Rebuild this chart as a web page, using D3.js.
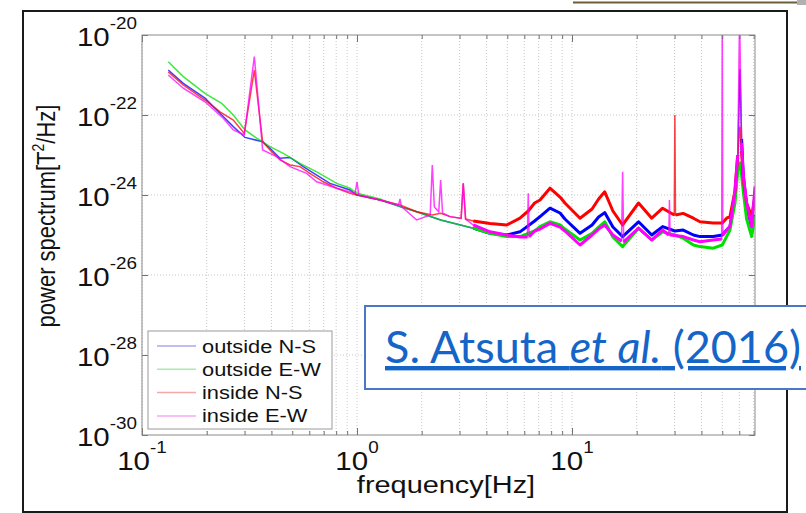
<!DOCTYPE html>
<html>
<head>
<meta charset="utf-8">
<script src="https://cdn.jsdelivr.net/npm/d3@7"></script>
<style>
  body { margin: 0; background: #fff; }
  svg { display: block; }
</style>
</head>
<body>
<svg id="chart" width="806" height="513"></svg>
<script>
////// DATA  [frequency Hz, power T^2/Hz]

var outsideNS = [
  [0.1325, 1.33e-21], [0.1556, 6.17e-22], [0.1963, 2.63e-22], [0.2348, 1.0e-22],
  [0.2659, 5.13e-23], [0.3014, 2.75e-23], [0.3642, 2.14e-23], [0.3938, 1.48e-23],
  [0.4384, 8.32e-24], [0.4881, 8.71e-24], [0.5626, 5.13e-24], [0.6496, 3.16e-24],
  [0.7488, 1.95e-24], [0.9277, 1.33e-24], [1.0, 1.0e-24], [1.28, 7.5e-25],
  [1.585, 5.13e-25], [1.896, 3.8e-25], [2.45, 2.37e-25], [3.475, 1.48e-25],
  [4.156, 1.10e-25], [4.97, 1.0e-25], [5.73, 1.2e-25], [6.7, 2.24e-25], [7.1, 2.88e-25],
  [7.9, 4.68e-25], [8.8, 3.55e-25], [9.27, 2.51e-25], [10.9, 1.10e-25], [12.4, 1.78e-25],
  [13.3, 2.82e-25], [14.2, 3.63e-25], [15.5, 1.58e-25], [17.2, 9.12e-26], [20.4, 2.14e-25],
  [23.5, 1.0e-25], [26.4, 1.62e-25], [30.1, 1.26e-25], [32.9, 1.33e-25], [36.7, 1.0e-25],
  [39.4, 9.12e-26], [45.4, 9.12e-26], [50, 1.0e-25], [52.4, 1.33e-25],
  [54.3, 1.62e-25], [57.3, 1.0e-24], [59.0, 6.31e-24], [60.4, 1.41e-21],
  [61.5, 2.51e-23], [62.6, 3.16e-24], [64.9, 5.01e-25], [68.5, 1.62e-25],
  [71.0, 3.16e-25]
];

var outsideEW = [
  [0.1325, 2.14e-21], [0.1556, 9.12e-22], [0.1963, 3.47e-22], [0.2348, 1.95e-22],
  [0.2659, 1.0e-22], [0.3014, 4.22e-23], [0.3416, 2.63e-23], [0.3938, 1.62e-23],
  [0.454, 1.10e-23], [0.543, 6.17e-24], [0.6496, 3.8e-24], [0.805, 1.95e-24],
  [0.9277, 1.48e-24], [1.0, 1.10e-24], [1.28, 7.94e-25], [1.585, 5.13e-25],
  [1.896, 3.8e-25], [2.45, 2.37e-25], [3.475, 1.48e-25], [4.156, 1.10e-25],
  [4.97, 9.12e-26], [5.73, 9.12e-26], [6.7, 1.26e-25], [7.1, 1.62e-25], [7.9, 2.14e-25],
  [8.8, 1.78e-25], [9.27, 1.41e-25], [10.9, 7.5e-26], [12.4, 1.10e-25], [13.3, 1.58e-25],
  [14.2, 2.14e-25], [15.5, 8.91e-26], [17.2, 5.13e-26], [20.4, 1.48e-25], [23.5, 7.5e-26],
  [26.4, 1.2e-25], [30.1, 1.0e-25], [32.9, 8.32e-26], [36.7, 5.62e-26], [39.4, 5.13e-26],
  [45.4, 4.68e-26], [50, 5.62e-26], [52.4, 9.12e-26], [54.3, 1.33e-25],
  [57.3, 6.31e-25], [59.0, 3.98e-24], [60.4, 6.31e-24], [61.5, 3.16e-24],
  [62.6, 1.26e-24], [64.9, 2.51e-25], [68.5, 9.12e-26], [71.0, 2.88e-25]
];

var insideNS = [
  [0.1325, 1.2e-21], [0.1556, 5.62e-22], [0.1963, 2.37e-22], [0.2306, 1.2e-22],
  [0.2659, 7.5e-23], [0.299, 3.47e-23], [0.333, 1.33e-21], [0.364, 2.14e-23],
  [0.3938, 1.33e-23], [0.4384, 7.5e-24], [0.4881, 5.62e-24], [0.543, 5.13e-24],
  [0.604, 3.47e-24], [0.697, 2.14e-24], [0.805, 1.48e-24], [0.9277, 1.10e-24],
  [1.0, 1.0e-24], [1.28, 7.5e-25], [1.585, 5.62e-25], [1.896, 3.8e-25],
  [2.24, 3.16e-25], [2.45, 3.47e-25], [2.707, 2.88e-25], [3.05, 2.6e-25],
  [3.12, 1.95e-24], [3.2, 2.5e-25], [3.475, 2.24e-25], [4.156, 1.95e-25],
  [4.97, 1.78e-25], [5.73, 2.63e-25], [6.26, 3.98e-25], [6.7, 6.31e-25], [7.1, 7.5e-25],
  [7.9, 1.48e-24], [8.8, 8.91e-25], [9.27, 6.31e-25], [10.9, 2.63e-25], [12.4, 4.47e-25],
  [13.3, 7.94e-25], [14.2, 1.2e-24], [15.5, 3.98e-25], [17.2, 1.78e-25], [20.4, 6.31e-25],
  [23.5, 2.63e-25], [26.4, 4.68e-25], [29.9, 3.16e-25], [30.1, 1.0e-22], [30.3, 3.16e-25],
  [32.9, 3.47e-25], [36.7, 2.63e-25], [39.4, 2.14e-25], [45.4, 2.0e-25],
  [50, 2.0e-25], [52.4, 2.63e-25], [54.3, 2.88e-25], [57.3, 1.26e-24],
  [59.0, 1.0e-23], [60.4, 5.13e-23], [61.5, 1.26e-23], [62.6, 2.51e-24],
  [64.9, 6.31e-25], [68.5, 2.88e-25], [71.0, 9.12e-25]
];

var insideEW = [
  [0.1325, 1.0e-21], [0.1556, 4.68e-22], [0.1963, 2.14e-22], [0.2388, 8.32e-23],
  [0.2659, 4.22e-23], [0.299, 3.16e-23], [0.333, 2.88e-21], [0.364, 1.33e-23],
  [0.423, 9.12e-24], [0.4881, 5.13e-24], [0.583, 3.47e-24], [0.6496, 2.14e-24],
  [0.805, 1.48e-24], [0.98, 1.10e-24], [1.0, 2.14e-24], [1.02, 1.0e-24],
  [1.28, 7.5e-25], [1.56, 5.62e-25], [1.585, 7.94e-25], [1.61, 5.13e-25],
  [1.896, 2.37e-25], [2.19, 3.16e-25], [2.24, 5.62e-24], [2.29, 5.01e-25],
  [2.40, 3.8e-25], [2.45, 2.37e-24], [2.50, 3.55e-25], [2.707, 2.88e-25],
  [3.05, 2.63e-25], [3.12, 1.95e-24], [3.2, 2.51e-25], [3.475, 1.78e-25],
  [4.156, 1.2e-25], [4.97, 1.0e-25], [5.73, 8.91e-26], [6.2, 8.91e-26],
  [6.26, 1.10e-24], [6.32, 9.12e-26], [6.7, 1.26e-25], [7.1, 1.41e-25], [7.9, 1.95e-25],
  [8.8, 1.58e-25], [9.27, 1.26e-25], [10.9, 5.62e-26], [12.4, 1.0e-25], [13.3, 1.41e-25],
  [14.2, 1.78e-25], [15.5, 1.0e-25], [17.0, 7.08e-26], [17.2, 3.8e-24], [17.4, 6.76e-26],
  [20.4, 1.48e-25], [23.5, 7.5e-26], [26.4, 1.33e-25], [28.2, 1.0e-25], [28.4, 7.5e-25],
  [28.6, 1.0e-25], [32.9, 9.12e-26], [36.7, 7.5e-26], [39.4, 6.76e-26],
  [45.4, 7.5e-26], [49.7, 7.94e-26], [50, 3e-20], [50.3, 1.0e-25],
  [52.4, 1.33e-25], [54.3, 1.62e-25], [57.3, 1.26e-24], [59.0, 1.0e-23],
  [60.2, 3e-20], [61.5, 2.0e-23], [62.6, 3.16e-24], [64.9, 6.31e-25],
  [68.5, 1.62e-25], [71.0, 1.62e-24]
];

var seriesNames = ["outside N-S", "outside E-W", "inside N-S", "inside E-W"];
var seriesData = [outsideNS, outsideEW, insideNS, insideEW];
var seriesColors = ["#0000ff", "#00e000", "#ff0000", "#ff00ff"];
var legendColors = ["#a8a8f0", "#a8eca8", "#f4a8a8", "#f4a8f4"];
var xLabelTicks = [0.1, 1, 10];
var yLabelTicks = [1e-30, 1e-28, 1e-26, 1e-24, 1e-22, 1e-20];

////// CHART

var svg = d3.select("#chart");
var sx = 1.18;   // das Bild ist horizontal gestreckt
var font = "Liberation Sans, Arial, sans-serif";

var plotLeft = 142, plotRight = 755, plotTop = 35, plotBottom = 435;

var x = d3.scaleLog().domain([0.1, 71]).range([plotLeft, plotRight]);
var y = d3.scaleLog().domain([1e-30, 1e-20]).range([plotBottom, plotTop]);

// oberer Rand der Folie
svg.append("line")
  .attr("x1", 573).attr("x2", 797).attr("y1", 2.5).attr("y2", 2.5)
  .style("stroke", "#6e5c3a").style("stroke-width", 2);
svg.append("rect")
  .attr("x", 797).attr("y", 0).attr("width", 9).attr("height", 5)
  .style("fill", "#b0b0b0");

// Rahmen um die Abbildung
svg.append("rect")
  .attr("x", 23).attr("y", 11).attr("width", 764).attr("height", 501)
  .style("fill", "#fff").style("stroke", "#1a1a1a").style("stroke-width", 2);

// Gitter
var grid = svg.append("g").style("stroke", "#c8c8c8").style("stroke-dasharray", "1,2");
grid.selectAll(".gx").data(x.ticks()).enter().append("line")
  .attr("x1", function(d) { return x(d); }).attr("x2", function(d) { return x(d); })
  .attr("y1", plotTop).attr("y2", plotBottom);
grid.selectAll(".gy").data(yLabelTicks.slice(1, -1)).enter().append("line")
  .attr("y1", function(d) { return y(d); }).attr("y2", function(d) { return y(d); })
  .attr("x1", plotLeft).attr("x2", plotRight);

// Kurven
svg.append("clipPath").attr("id", "plotclip")
  .append("rect").attr("x", plotLeft).attr("y", plotTop)
  .attr("width", plotRight - plotLeft).attr("height", plotBottom - plotTop);

var line = d3.line()
  .x(function(d) { return x(d[0]); })
  .y(function(d) { return y(d[1]); });

// schmale Spitzen (Netzbrummen usw.) nicht im breiten Band zeichnen
var isSpike = function(data, i) {
  if (i === 0 || i === data.length - 1) return false;
  return data[i][1] > 3 * data[i - 1][1] && data[i][1] > 3 * data[i + 1][1];
};

var curves = svg.append("g").attr("clip-path", "url(#plotclip)");
seriesData.forEach(function(data, i) {
  var band = data.map(function(d, k) { return [d[0], d[1], !isSpike(data, k)]; })
    .filter(function(d) { return d[0] >= 3.4; });
  // verrauschter Bereich oberhalb ~3 Hz als breites Band
  curves.append("path")
    .attr("d", line.defined(function(d) { return d.length < 3 || d[2]; })(band))
    .style("fill", "none")
    .style("stroke", seriesColors[i])
    .style("stroke-width", 3)
    .style("stroke-linejoin", "round");
  curves.append("path")
    .attr("d", line.defined(function() { return true; })(data))
    .style("fill", "none")
    .style("stroke", seriesColors[i])
    .style("stroke-opacity", 0.75)
    .style("stroke-width", 1.5);
});

// Achsen
var majorX = function(d) { return xLabelTicks.indexOf(d) >= 0; };

var xBottom = svg.append("g").attr("transform", "translate(0," + plotBottom + ")")
  .call(d3.axisBottom(x).tickValues(x.ticks()).tickSize(-4).tickFormat(""));
var xTop = svg.append("g").attr("transform", "translate(0," + plotTop + ")")
  .call(d3.axisTop(x).tickValues(x.ticks()).tickSize(-4).tickFormat(""));
var yLeft = svg.append("g").attr("transform", "translate(" + plotLeft + ",0)")
  .call(d3.axisLeft(y).tickValues(yLabelTicks).tickSize(-6));
var yRight = svg.append("g").attr("transform", "translate(" + plotRight + ",0)")
  .call(d3.axisRight(y).tickValues(yLabelTicks).tickSize(-6).tickFormat(""));

[xBottom, xTop, yLeft, yRight].forEach(function(g) {
  g.select(".domain").remove();
  g.selectAll(".tick line").style("stroke", "#707070");
});
xBottom.selectAll(".tick line").attr("y2", function(d) { return majorX(d) ? -7 : -4; });
xTop.selectAll(".tick line").attr("y2", function(d) { return majorX(d) ? 7 : 4; });

svg.append("rect")
  .attr("x", plotLeft).attr("y", plotTop)
  .attr("width", plotRight - plotLeft).attr("height", plotBottom - plotTop)
  .style("fill", "none").style("stroke", "#8a8a8a");

var expOf = function(d) { return String(Math.round(Math.log10(d))); };

yLeft.attr("font-family", font);
yLeft.selectAll(".tick text").each(function(d) {
  var t = d3.select(this).text(null)
    .attr("x", 0).attr("y", 10).attr("dy", null)
    .attr("transform", "translate(-5,0) scale(" + sx + ",1)")
    .style("fill", "#111").attr("font-size", 25);
  t.append("tspan").text("10");
  t.append("tspan").attr("dy", -17).attr("font-size", 16).text(expOf(d));
});

var xLabels = svg.append("g").attr("font-family", font).style("fill", "#111");
xLabels.selectAll("text").data(xLabelTicks).enter().append("text")
  .attr("text-anchor", "middle")
  .attr("font-size", 25)
  .attr("transform", function(d) { return "translate(" + x(d) + ",470) scale(" + sx + ",1)"; })
  .each(function(d) {
    var t = d3.select(this);
    t.append("tspan").text("10");
    t.append("tspan").attr("dy", -17).attr("font-size", 16).text(expOf(d));
  });

// Achsentitel
svg.append("text")
  .attr("font-family", font).attr("font-size", 24.5)
  .attr("text-anchor", "middle").style("fill", "#111")
  .attr("transform", "translate(446,493) scale(" + sx + ",1)")
  .text("frequency[Hz]");

var yTitle = svg.append("text")
  .attr("font-family", font).attr("font-size", 22)
  .attr("text-anchor", "middle").style("fill", "#111")
  .attr("transform", "translate(55,216) scale(" + sx + ",1) rotate(-90)");
yTitle.append("tspan").text("power spectrum[T");
yTitle.append("tspan").attr("dy", -9).attr("font-size", 14).text("2");
yTitle.append("tspan").attr("dy", 9).text("/Hz]");

// Legende
var legend = svg.append("g");
legend.append("rect")
  .attr("x", 148).attr("y", 331).attr("width", 184).attr("height", 98)
  .style("fill", "#fff").style("stroke", "#9a9a9a");
seriesNames.forEach(function(name, i) {
  var ly = 346 + i * 23.3;
  legend.append("line")
    .attr("x1", 157).attr("x2", 196).attr("y1", ly).attr("y2", ly)
    .style("stroke", legendColors[i]).style("stroke-width", 1.5);
  legend.append("text")
    .attr("font-family", font).attr("font-size", 18.5).style("fill", "#111")
    .attr("transform", "translate(202," + (ly + 6.5) + ") scale(" + sx + ",1)")
    .text(name);
});

// Quellenangabe
svg.append("rect")
  .attr("x", 365).attr("y", 306).attr("width", 460).attr("height", 83)
  .style("fill", "#fff").style("stroke", "#4a78c8").style("stroke-width", 2);
var cite = svg.append("text")
  .attr("x", 385).attr("y", 363)
  .attr("font-family", "Lato, 'Open Sans', sans-serif").attr("font-size", 44)
  .attr("textLength", 416).attr("lengthAdjust", "spacingAndGlyphs")
  .style("fill", "#1565c8").style("text-decoration", "underline");
cite.append("tspan").text("S. Atsuta ");
cite.append("tspan").style("font-style", "italic").text("et al.");
cite.append("tspan").text(" (2016)");
</script>
</body>
</html>
